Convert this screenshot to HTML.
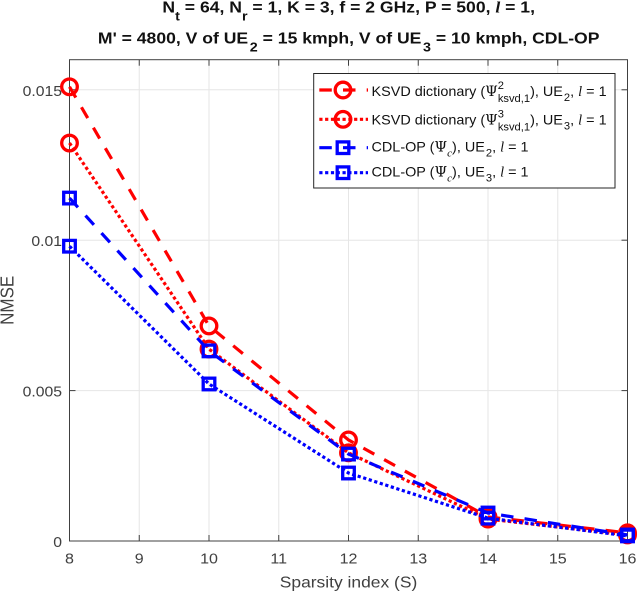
<!DOCTYPE html>
<html>
<head>
<meta charset="utf-8">
<style>
html,body{margin:0;padding:0;background:#fff;}
svg{display:block;font-family:"Liberation Sans",sans-serif;}
.tk{font-size:15px;fill:#404040;}
.ttl{font-size:16px;font-weight:bold;fill:#111;}
.lg{font-size:14.2px;fill:#111;}
.it{font-family:"Liberation Serif",serif;font-style:italic;}
.sy{font-family:"DejaVu Serif",serif;}
</style>
</head>
<body>
<svg id="chart" width="638" height="592" viewBox="0 0 638 592" xmlns="http://www.w3.org/2000/svg">
<g id="grid"></g>
<g id="axes"></g>
<g id="series"></g>

<text class="ttl" transform="translate(348.7,12.7) scale(1.1,1)" text-anchor="middle">N<tspan dy="8" font-size="13">t</tspan><tspan dy="-8"> = 64, N</tspan><tspan dy="8" font-size="13">r</tspan><tspan dy="-8"> = 1, K = 3, f = 2 GHz, P = 500, </tspan><tspan class="it">l</tspan> = 1,</text>
<text class="ttl" transform="translate(348.7,43.3) scale(1.1,1)" text-anchor="middle">M' = 4800, V of UE<tspan dy="8" dx="1.5" font-size="13">2</tspan><tspan dy="-8"> = 15 kmph, V of UE</tspan><tspan dy="8" dx="1.5" font-size="13">3</tspan><tspan dy="-8"> = 10 kmph, CDL-OP</tspan></text>

<text class="tk" transform="translate(348.5,587.5) scale(1.09,1)" text-anchor="middle" style="font-size:16px">Sparsity index (S)</text>
<text class="tk" transform="translate(13.3,300.3) scale(1.07,1) rotate(-90)" text-anchor="middle" style="font-size:17px">NMSE</text>

<g>
<rect x="313.7" y="73.5" width="301.3" height="114.5" fill="#fff" stroke="#262626" stroke-width="1"/>
<g id="legend-samples"></g>
<text class="lg" transform="translate(371.5,96) scale(1.015,1)">KSVD dictionary (<tspan class="sy">Ψ</tspan><tspan dy="-7" font-size="11">2</tspan><tspan dy="13" dx="-6.1" font-size="11">ksvd,1</tspan><tspan dy="-6">), UE</tspan><tspan dy="5" dx="1" font-size="11">2</tspan><tspan dy="-5">, </tspan><tspan class="it">l</tspan> = 1</text>
<text class="lg" transform="translate(371.5,124.5) scale(1.015,1)">KSVD dictionary (<tspan class="sy">Ψ</tspan><tspan dy="-7" font-size="11">3</tspan><tspan dy="13" dx="-6.1" font-size="11">ksvd,1</tspan><tspan dy="-6">), UE</tspan><tspan dy="5" dx="1" font-size="11">3</tspan><tspan dy="-5">, </tspan><tspan class="it">l</tspan> = 1</text>
<text class="lg" transform="translate(371.5,151.7) scale(1.015,1)">CDL-OP (<tspan class="sy">Ψ</tspan><tspan dy="5" font-size="11" class="it">c</tspan><tspan dy="-5">), UE</tspan><tspan dy="5" dx="1" font-size="11">2</tspan><tspan dy="-5">, </tspan><tspan class="it">l</tspan> = 1</text>
<text class="lg" transform="translate(371.5,176.7) scale(1.015,1)">CDL-OP (<tspan class="sy">Ψ</tspan><tspan dy="5" font-size="11" class="it">c</tspan><tspan dy="-5">), UE</tspan><tspan dy="5" dx="1" font-size="11">3</tspan><tspan dy="-5">, </tspan><tspan class="it">l</tspan> = 1</text>
</g>
</svg>

<script>
var sparsity = [8, 10, 12, 14, 16];
var ksvdUe2 = [0.0151, 0.00715, 0.00336, 0.0008, 0.00027];
var ksvdUe3 = [0.01323, 0.00638, 0.00293, 0.00073, 0.0002];
var cdlUe2 = [0.0114, 0.00632, 0.00289, 0.00093, 0.0002];
var cdlUe3 = [0.0098, 0.00522, 0.00226, 0.00076, 0.00017];
var xTicks = [8, 9, 10, 11, 12, 13, 14, 15, 16];
var yTicks = [0, 0.005, 0.01, 0.015];
var yTickLabels = ['0', '0.005', '0.01', '0.015'];

var NS = 'http://www.w3.org/2000/svg';
var L = 69.5, R = 627.5, T = 59.7, B = 541;
var xMin = 8, xMax = 16, yMin = 0, yMax = 0.016;
var DASHED = '12.5 11.2', DOTTED = '3.2 2.6';
function xPos(v) { return L + (v - xMin) / (xMax - xMin) * (R - L); }
function yPos(v) { return B - (v - yMin) / (yMax - yMin) * (B - T); }
function mk(parent, tag, attrs) {
  var e = document.createElementNS(NS, tag);
  for (var k in attrs) e.setAttribute(k, attrs[k]);
  parent.appendChild(e);
  return e;
}
var grid = document.getElementById('grid');
var axes = document.getElementById('axes');
var series = document.getElementById('series');
var samples = document.getElementById('legend-samples');

xTicks.forEach(function (t) {
  var x = xPos(t);
  var g = mk(grid, 'line', { x1: x, x2: x, y1: T, y2: B, stroke: '#e6e6e6', 'stroke-width': 1 });
  
  
  var a = mk(axes, 'line', { x1: x, x2: x, y1: B, y2: B - 6, stroke: '#404040', 'stroke-width': 1 });
  
  
  var b = mk(axes, 'line', { x1: x, x2: x, y1: T, y2: T + 6, stroke: '#404040', 'stroke-width': 1 });
  
  
  var lbl = mk(axes, 'text', { transform: 'translate(' + x + ',563.5) scale(1.07,1)', 'text-anchor': 'middle', 'class': 'tk' });
  
  
  lbl.textContent = t;
});
yTicks.forEach(function (t, i) {
  var y = yPos(t);
  var g = mk(grid, 'line', { x1: L, x2: R, y1: y, y2: y, stroke: '#e6e6e6', 'stroke-width': 1 });
  
  
  var a = mk(axes, 'line', { x1: L, x2: L + 6, y1: y, y2: y, stroke: '#404040', 'stroke-width': 1 });
  
  
  var b = mk(axes, 'line', { x1: R, x2: R - 6, y1: y, y2: y, stroke: '#404040', 'stroke-width': 1 });
  
  
  var lbl = mk(axes, 'text', { transform: 'translate(62,' + (y + 6) + ') scale(1.05,1)', 'text-anchor': 'end', 'class': 'tk' });
  
  
  lbl.textContent = yTickLabels[i];
});
var box = mk(axes, 'rect', { x: L, y: T, width: R - L, height: B - T, fill: 'none', stroke: '#404040', 'stroke-width': 1 });



function marker(parent, kind, color, x, y) {
  var m;
  if (kind === 'circle') {
    m = mk(parent, 'circle', { cx: x, cy: y, r: 7.8, fill: 'none', stroke: color, 'stroke-width': 3.3 });
  } else {
    m = mk(parent, 'rect', { x: x - 5.8, y: y - 5.8, width: 11.6, height: 11.6, fill: 'none', stroke: color, 'stroke-width': 3.3 });
  }
  
  
}
function drawSeries(values, color, dash, kind, name) {
  var pts = values.map(function (v, i) { return xPos(sparsity[i]) + ',' + yPos(v); }).join(' ');
  var l = mk(series, 'polyline', { points: pts, fill: 'none', stroke: color, 'stroke-width': 3.2, 'stroke-dasharray': dash });
  
  
  values.forEach(function (v, i) { marker(series, kind, color, xPos(sparsity[i]), yPos(v)); });
}
drawSeries(ksvdUe2, '#ff0000', DASHED, 'circle', 'line-ksvd-ue2');
drawSeries(ksvdUe3, '#ff0000', DOTTED, 'circle', 'line-ksvd-ue3');
drawSeries(cdlUe2, '#0000ff', DASHED, 'square', 'line-cdl-ue2');
drawSeries(cdlUe3, '#0000ff', DOTTED, 'square', 'line-cdl-ue3');

function legendSample(y, color, dash, kind) {
  var l = mk(samples, 'line', { x1: 319.3, x2: 368, y1: y, y2: y, stroke: color, 'stroke-width': 3.2, 'stroke-dasharray': dash });
  
  
  marker(samples, kind, color, 343, y);
}
legendSample(90, '#ff0000', DASHED, 'circle');
legendSample(119.3, '#ff0000', DOTTED, 'circle');
legendSample(147.7, '#0000ff', DASHED, 'square');
legendSample(172.7, '#0000ff', DOTTED, 'square');
</script>
</body>
</html>
